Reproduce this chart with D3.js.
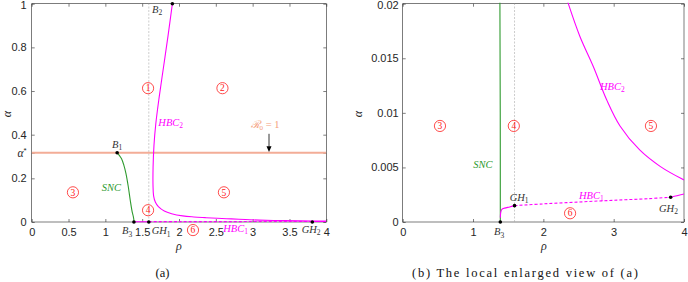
<!DOCTYPE html>
<html><head><meta charset="utf-8">
<script src="https://cdn.jsdelivr.net/npm/d3@7"></script>
<style>body{margin:0;background:#fff}</style>
</head><body><svg id="c" width="688" height="282"></svg>
<script>
// ---------------- data ----------------
const alphaStar = 0.317;
const xTicksA = [0, 0.5, 1, 1.5, 2, 2.5, 3, 3.5, 4];
const yTicksA = [0, 0.2, alphaStar, 0.4, 0.6, 0.8, 1];
const xTicksB = [0, 1, 2, 3, 4];
const yTicksB = [0, 0.005, 0.01, 0.015, 0.02];
const yLabelsB = ["0", "0.005", "0.01", "0.015", "0.02"];

// SNC curve (rho, alpha)
const snc = [[1.16,0.317],[1.19,0.305],[1.22,0.29],[1.25,0.262],[1.28,0.222],[1.31,0.165],[1.34,0.095],[1.365,0.045],[1.38,0.025],[1.387,0.01],[1.388,0]];
// HBC2 curve
const hbc2 = [[1.91,1.0],[1.85,0.85],[1.79,0.71],[1.73,0.57],[1.685,0.45],[1.66,0.35],[1.648,0.25],[1.647,0.17],[1.655,0.12],[1.68,0.09],[1.72,0.07],[1.80,0.05],[1.90,0.038],[2.05,0.028],[2.2,0.0232],[2.355,0.0200],[2.52,0.0170],[2.71,0.01425],[2.90,0.0112],[3.09,0.0088],[3.37,0.0066],[3.66,0.0051],[4.0,0.00385]];
// HBC1 curve pieces
const hbc1Solid1 = [[1.388,0.0004],[1.395,0.0009],[1.41,0.00115],[1.45,0.00127],[1.52,0.00138],[1.59,0.0015]];
const hbc1Dashed = [[1.59,0.0015],[2.0,0.00166],[2.5,0.00183],[3.0,0.00199],[3.5,0.00214],[3.81,0.00227]];
const hbc1Solid2 = [[3.81,0.00227],[3.9,0.0024],[4.0,0.00257]];
const rhoGH1 = 1.59;
const ptB1 = [1.16, alphaStar], ptB2 = [1.91, 1.0], ptB3 = [1.388, 0];
const ptGH1 = [1.59, 0.0015], ptGH2 = [3.81, 0.00227];

// ---------------- setup ----------------
const svg = d3.select("#c");
const xA = d3.scaleLinear([0,4],[31.7,326.3]);
const yA = d3.scaleLinear([0,1],[222,3.7]);
const xB = d3.scaleLinear([0,4],[402.7,684]);
const yB = d3.scaleLinear([0,0.02],[222,3.7]);

const AX = "#262626";
const MAG = "#ff00ff", GRN = "#2e9a2e", SAL = "#f3ad97", RED = "#ff2020";

function panel(id, x, y, xt, xfmt, yt, yfmt, pad) {
  const g = svg.append("g");
  const [x0,x1] = x.range(), [y0,y1] = y.range();
  const axes = [];
  axes.push(g.append("g").attr("transform",`translate(0,${y0})`)
    .call(d3.axisBottom(x).tickValues(xt).tickFormat(xfmt).tickSizeInner(-3).tickSizeOuter(0).tickPadding(6.5)));
  axes.push(g.append("g").attr("transform",`translate(0,${y1})`)
    .call(d3.axisTop(x).tickValues(xt).tickFormat(()=>"").tickSizeInner(-3).tickSizeOuter(0)));
  const left = g.append("g").attr("transform",`translate(${x0},0)`)
    .call(d3.axisLeft(y).tickValues(yt).tickFormat(yfmt).tickSizeInner(-3).tickSizeOuter(0).tickPadding(pad));
  axes.push(left);
  axes.push(g.append("g").attr("transform",`translate(${x1},0)`)
    .call(d3.axisRight(y).tickValues(yt).tickFormat(()=>"").tickSizeInner(-3).tickSizeOuter(0)));
  axes.forEach(a => {
    a.select(".domain").remove();
    a.selectAll("line").attr("stroke",AX).attr("stroke-width",0.6);
    a.selectAll("text").attr("fill",AX).attr("font-family","Liberation Sans, Arial, sans-serif").attr("font-size",11);
  });
  // keep the topmost tick label inside the picture
  const top = yt[yt.length-1];
  left.selectAll(".tick").filter(d => d === top).select("text").attr("dy","0.45em");
  g.append("rect").attr("x",x0).attr("y",y1).attr("width",x1-x0).attr("height",y0-y1)
    .attr("fill","none").attr("stroke",AX).attr("stroke-width",0.6);
  svg.append("clipPath").attr("id",id).append("rect")
    .attr("x",x0).attr("y",y1-1).attr("width",x1-x0).attr("height",y0-y1+2);
  const plot = svg.append("g").attr("clip-path",`url(#${id})`);
  const over = svg.append("g");
  return {g, left, plot, over, x, y};
}

function curve(p, data, color, w, dash) {
  const line = d3.line().x(d=>p.x(d[0])).y(d=>p.y(d[1])).curve(d3.curveCatmullRom.alpha(0.5));
  p.plot.append("path").attr("d",line(data)).attr("fill","none").attr("stroke",color)
    .attr("stroke-width",w).attr("stroke-dasharray",dash||null);
}
function dot(p, pt) {
  p.over.append("circle").attr("cx",p.x(pt[0])).attr("cy",p.y(pt[1])).attr("r",1.8).attr("fill","#000");
}
function lab(p, rx, ay, main, sub, color, anchor) {
  const t = p.over.append("text").attr("x",p.x(rx)).attr("y",p.y(ay))
    .attr("font-family","Liberation Serif, DejaVu Serif, serif").attr("font-style","italic")
    .attr("font-size",10.5).attr("fill",color).attr("text-anchor",anchor||"start");
  t.append("tspan").text(main);
  if (sub) t.append("tspan").attr("dy",2.5).attr("font-size",7.5).attr("font-style","normal").text(sub);
  return t;
}
function circ(p, rx, ay, n) {
  const cx = p.x(rx), cy = p.y(ay);
  p.over.append("circle").attr("cx",cx).attr("cy",cy).attr("r",5.6).attr("fill","none").attr("stroke",RED).attr("stroke-width",0.8);
  p.over.append("text").attr("x",cx).attr("y",cy+3.2).attr("text-anchor","middle")
    .attr("font-family","Liberation Serif, serif").attr("font-size",9.5).attr("fill",RED).text(n);
}
function vline(p, rx) {
  const [ya,yb] = p.y.range();
  p.plot.append("line").attr("x1",p.x(rx)).attr("x2",p.x(rx)).attr("y1",ya).attr("y2",yb)
    .attr("stroke","#aaa").attr("stroke-width",0.6).attr("stroke-dasharray","2,1.5");
}

// ---------------- panel (a) ----------------
const fmtA = d => d === alphaStar ? "" : d3.format("~g")(d);
const A = panel("clipA", xA, yA, xTicksA, d3.format("~g"), yTicksA, fmtA, 5);
A.left.selectAll(".tick").filter(d => d === alphaStar).select("text").each(function(){
  const t = d3.select(this);
  t.append("tspan").attr("font-family","Liberation Serif, serif").attr("font-style","italic").attr("font-size",11.5).text("α");
  t.append("tspan").attr("dy",-4).attr("font-size",8).text("*");
});
vline(A, rhoGH1);
A.plot.append("line").attr("x1",xA(0)).attr("x2",xA(4)).attr("y1",yA(alphaStar)).attr("y2",yA(alphaStar))
  .attr("stroke",SAL).attr("stroke-width",2);
curve(A, snc, GRN, 1.1);
curve(A, hbc2, MAG, 1.1);
curve(A, hbc1Solid1, MAG, 1.1);
curve(A, hbc1Dashed, MAG, 1.1, "3,2");
curve(A, hbc1Solid2, MAG, 1.1);
// arrow
A.over.append("line").attr("x1",xA(3.222)).attr("x2",xA(3.222)).attr("y1",yA(0.404)).attr("y2",yA(0.345))
  .attr("stroke","#000").attr("stroke-width",0.8);
A.over.append("path").attr("d",
  `M${xA(3.222)-2.5},${yA(0.347)} L${xA(3.222)+2.5},${yA(0.347)} L${xA(3.222)},${yA(0.321)} Z`).attr("fill","#000");
[ptB1, ptB2, ptB3, [rhoGH1,0], [ptGH2[0],0]].forEach(pt => dot(A, pt));
lab(A, 1.633, 0.959, "B", "2", "#333");
lab(A, 1.09, 0.339, "B", "1", "#333");
lab(A, 1.226, -0.055, "B", "3", "#333");
lab(A, 1.629, -0.055, "GH", "1", "#333");
lab(A, 3.666, -0.050, "GH", "2", "#333");
lab(A, 2.60, -0.044, "HBC", "1", MAG);
lab(A, 1.719, 0.44, "HBC", "2", MAG);
lab(A, 0.95, 0.142, "SNC", null, GRN);
{
  const t = A.over.append("text").attr("x",xA(3.168)).attr("y",yA(0.431)).attr("text-anchor","middle")
    .attr("font-family","Liberation Serif, serif").attr("font-size",10.5).attr("fill","#f4a07c");
  t.append("tspan").attr("font-style","italic").text("ℛ");
  t.append("tspan").attr("dy",2.5).attr("font-size",7).text("0");
  t.append("tspan").attr("dy",-2.5).text(" = 1");
}
circ(A, 1.58, 0.613, "1");
circ(A, 2.59, 0.613, "2");
circ(A, 0.56, 0.136, "3");
circ(A, 1.58, 0.054, "4");
circ(A, 2.61, 0.136, "5");
circ(A, 2.19, -0.037, "6");

// ---------------- panel (b) ----------------
const B = panel("clipB", xB, yB, xTicksB, d3.format("~g"), yTicksB, (d,i) => yLabelsB[i], 4);
vline(B, rhoGH1);
curve(B, snc, GRN, 1.1);
curve(B, hbc2, MAG, 1.1);
curve(B, hbc1Solid1, MAG, 1.1);
curve(B, hbc1Dashed, MAG, 1.1, "3,2");
curve(B, hbc1Solid2, MAG, 1.1);
[ptB3, ptGH1, ptGH2].forEach(pt => dot(B, pt));
lab(B, 2.805, 0.01211, "HBC", "2", MAG);
lab(B, 1.004, 0.00495, "SNC", null, GRN);
lab(B, 1.521, 0.00193, "GH", "1", "#333");
lab(B, 2.507, 0.00211, "HBC", "1", MAG);
lab(B, 3.644, 0.00092, "GH", "2", "#333");
lab(B, 1.298, -0.0012, "B", "3", "#333");
circ(B, 0.53, 0.0088, "3");
circ(B, 1.58, 0.0088, "4");
circ(B, 3.53, 0.0088, "5");
circ(B, 2.38, 0.0008, "6");

// ---------------- axis labels & captions ----------------
function mathLab(x, y, s, rot) {
  const t = svg.append("text").attr("x",x).attr("y",y).attr("text-anchor","middle")
    .attr("font-family","Liberation Serif, serif").attr("font-style","italic").attr("font-size",12).attr("fill",AX).text(s);
  if (rot) t.attr("transform",`rotate(-90,${x},${y})`);
}
mathLab(179, 250, "ρ");
mathLab(544, 250, "ρ");
mathLab(10.5, 114, "α", true);
mathLab(362, 114, "α", true);
svg.append("text").attr("x",162.5).attr("y",277).attr("text-anchor","middle")
  .attr("font-family","Liberation Serif, serif").attr("font-size",12.5).attr("fill","#111").text("(a)");
svg.append("text").attr("x",525).attr("y",277).attr("text-anchor","middle")
  .attr("font-family","Liberation Serif, serif").attr("font-size",12.5).attr("fill","#111")
  .attr("textLength",226).text("(b)  The local enlarged view of (a)");
</script></body></html>
